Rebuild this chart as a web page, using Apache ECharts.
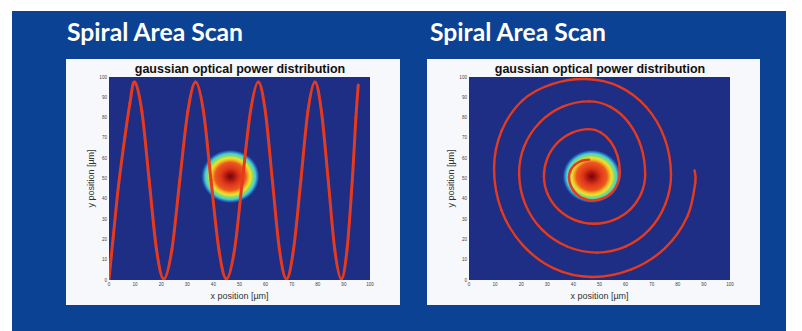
<!DOCTYPE html>
<html><head><meta charset="utf-8">
<script src="https://cdn.jsdelivr.net/npm/echarts@6/dist/echarts.min.js"></script>
<style>
html,body{margin:0;padding:0;background:#ffffff;overflow:hidden;}
#panel{position:absolute;left:12px;top:11px;width:774px;height:320px;background:#0c4294;}
.frame{position:absolute;top:59px;height:246px;background:#f6f8fb;}
#c{position:absolute;left:0;top:0;width:802px;height:331px;}
</style>
</head><body>
<div id="panel"></div>
<div class="frame" style="left:66px;width:334px;"></div>
<div class="frame" style="left:427px;width:333px;"></div>
<div id="c"></div>
<script>
// ---- data ----
const panelTitle = 'Spiral Area Scan';
const plotTitle = 'gaussian optical power distribution';
const xAxisName = 'x position [µm]';
const yAxisName = 'y position [µm]';
const axisMin = 0, axisMax = 100, tickStep = 10;

// gaussian spot: centre [x, y] and half extent [rx, ry] in µm
const spotCenterLeft = [46.5, 51];
const spotCenterRight = [47, 51];
const spotRadius = [11.3, 13.3];

// left plot: meander (sine-like) scan path [x, y]
const sinePath = [
  [0,0.5],[1.6,21],[3.6,46],[6.1,70.6],[8,87],[9.8,97.5],
  [12.6,83],[15.4,49],[18.2,15],[21,0.5],
  [24.1,15],[27.1,49],[30.2,83],[33.2,97.5],
  [36.2,83],[39.1,49],[42.1,15],[45,0.5],
  [48.1,15],[51.1,49],[54.2,83],[57.2,97.5],
  [59.9,83],[62.6,49],[65.3,15],[68,0.5],
  [70.7,15],[73.5,49],[76.2,83],[78.9,97.5],
  [81.4,83],[84,49],[86.5,15],[89,0.5],
  [91.2,15],[93.2,49],[94.6,80],[95.5,96]
];

// right plot: spiral scan path [x, y], from the centre outwards
const spiralPath = [
  [46.0,59.3],[43.1,58.7],[40.6,56.8],[38.9,54.0],[38.3,50.7],
  [39.0,46.3],[41.0,42.6],[44.0,40.1],[47.5,39.2],
  [51.4,40.3],[54.8,43.2],[57.0,47.7],[57.8,53.0],
  [56.9,61.2],[54.3,68.1],[50.5,72.7],[46.0,74.3],
  [39.4,72.5],[33.8,67.5],[30.0,59.9],[28.7,51.0],
  [30.2,42.1],[34.4,34.5],[40.6,29.5],[48.0,27.7],
  [55.5,29.6],[61.8,34.8],[66.0,42.7],[67.5,52.0],
  [65.9,65.8],[61.2,77.5],[54.2,85.3],[46.0,88.0],
  [35.7,85.3],[27.1,77.6],[21.2,66.0],[19.2,52.4],
  [21.5,37.5],[27.9,24.9],[37.6,16.5],[49.0,13.5],
  [59.9,16.4],[69.1,24.8],[75.2,37.3],[77.4,52.0],
  [74.9,70.0],[67.9,85.2],[57.4,95.4],[45.0,99.0],
  [31.8,96.5],[20.5,88.5],[12.5,73.5],[9.6,55.0],
  [12.4,34.5],[20.6,17.2],[32.7,5.6],[47.0,1.5],
  [62.2,5.2],[75.1,15.7],[83.7,31.4],[86.7,48.0],[86.4,54.0]
];

// ---- chart ----
const chart = echarts.init(document.getElementById('c'), null, {renderer: 'svg'});
const plotBg = '#1d2e84';
const lineColor = '#e63a1f';
const grids = [
  {left: 109, top: 77, width: 261, height: 203},
  {left: 469, top: 77, width: 261, height: 203}
];
function makeAxis(type, gi) {
  const isX = type === 'x';
  return {
    type: 'value', gridIndex: gi, min: axisMin, max: axisMax, interval: tickStep,
    name: isX ? xAxisName : yAxisName, nameLocation: 'middle',
    nameGap: isX ? 5 : 10,
    nameTextStyle: {fontSize: 9, color: '#333', fontFamily: 'Liberation Sans, Arial, sans-serif'},
    axisLine: {show: false}, axisTick: {show: false}, splitLine: {show: false},
    axisLabel: {fontSize: 4.6, color: '#444', margin: 2, fontFamily: 'Liberation Sans, Arial, sans-serif'}
  };
}
const spotGradient = {
  type: 'radial', x: 0.5, y: 0.5, r: 0.5,
  colorStops: [
    {offset: 0, color: '#6e0808'},
    {offset: 0.14, color: '#a81410'},
    {offset: 0.3, color: '#dc3519'},
    {offset: 0.52, color: '#ec5a1e'},
    {offset: 0.62, color: '#f3b822'},
    {offset: 0.69, color: '#e6e632'},
    {offset: 0.76, color: '#90dc62'},
    {offset: 0.85, color: '#46d0d4'},
    {offset: 0.93, color: 'rgba(44,130,216,0.7)'},
    {offset: 1, color: 'rgba(29,46,132,0)'}
  ]
};
function spotSeries(gi, center) {
  return {
    type: 'custom', xAxisIndex: gi, yAxisIndex: gi, z: 1, silent: true,
    data: [[center[0], center[1], spotRadius[0], spotRadius[1]]],
    renderItem: function (params, api) {
      const c = api.coord([api.value(0), api.value(1)]);
      const s = api.size([api.value(2), api.value(3)]);
      return {
        type: 'circle', x: c[0], y: c[1], scaleX: s[0] / s[1], scaleY: 1,
        shape: {cx: 0, cy: 0, r: s[1]},
        style: {fill: spotGradient}
      };
    }
  };
}
// smooth scan path: one Catmull-Rom bezier segment per data point, positioned by the axes
function pathSeries(gi, path, width) {
  return {
    type: 'custom', xAxisIndex: gi, yAxisIndex: gi, z: 3, silent: true, clip: true,
    data: path,
    renderItem: function (params, api) {
      const i = params.dataIndex;
      if (i >= path.length - 1) return null;
      const p0 = api.coord(path[Math.max(i - 1, 0)]);
      const p1 = api.coord(path[i]);
      const p2 = api.coord(path[i + 1]);
      const p3 = api.coord(path[Math.min(i + 2, path.length - 1)]);
      return {
        type: 'bezierCurve',
        shape: {
          x1: p1[0], y1: p1[1], x2: p2[0], y2: p2[1],
          cpx1: p1[0] + (p2[0] - p0[0]) / 6, cpy1: p1[1] + (p2[1] - p0[1]) / 6,
          cpx2: p2[0] - (p3[0] - p1[0]) / 6, cpy2: p2[1] - (p3[1] - p1[1]) / 6
        },
        style: {stroke: lineColor, lineWidth: width, fill: 'none', lineCap: 'round'}
      };
    }
  };
}
const titleFont = 'Lato, "Noto Sans", sans-serif';
const option = {
  animation: false,
  grid: grids.map(g => Object.assign({show: true, backgroundColor: plotBg, borderWidth: 0}, g)),
  xAxis: [makeAxis('x', 0), makeAxis('x', 1)],
  yAxis: [makeAxis('y', 0), makeAxis('y', 1)],
  graphic: [
    {type: 'text', x: 67, y: 31.5, style: {text: panelTitle, fill: '#ffffff', fontSize: 24.7, fontWeight: 'bold', fontFamily: titleFont, align: 'left', verticalAlign: 'middle'}},
    {type: 'text', x: 430, y: 31.5, style: {text: panelTitle, fill: '#ffffff', fontSize: 24.7, fontWeight: 'bold', fontFamily: titleFont, align: 'left', verticalAlign: 'middle'}},
    {type: 'text', x: 240, y: 68.5, style: {text: plotTitle, fill: '#111111', fontSize: 12.5, fontWeight: 'bold', fontFamily: 'Liberation Sans, Arial, sans-serif', align: 'center', verticalAlign: 'middle'}},
    {type: 'text', x: 600, y: 68.5, style: {text: plotTitle, fill: '#111111', fontSize: 12.5, fontWeight: 'bold', fontFamily: 'Liberation Sans, Arial, sans-serif', align: 'center', verticalAlign: 'middle'}}
  ],
  series: [
    spotSeries(0, spotCenterLeft),
    spotSeries(1, spotCenterRight),
    pathSeries(0, sinePath, 3),
    pathSeries(1, spiralPath, 2.4)
  ]
};
chart.setOption(option);
</script>
</body></html>
